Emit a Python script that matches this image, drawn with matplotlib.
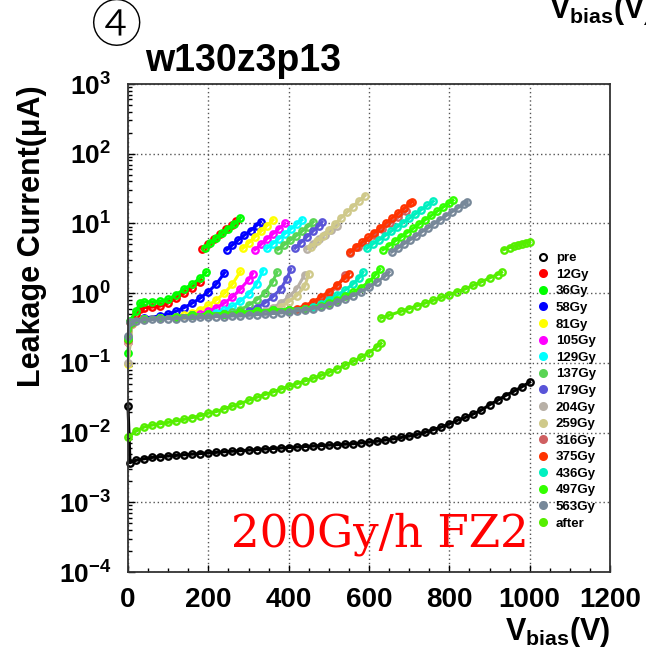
import numpy as np
import matplotlib
matplotlib.use("Agg")
import matplotlib.pyplot as plt
from matplotlib.lines import Line2D

nan = np.nan

# leakage current (uA) vs bias voltage (V)
pre_v = [0, 5, 20, 40, 60, 80, 100, 120, 140, 160, 180, 200, 220, 240, 260, 280, 300, 320, 340, 360,
         380, 400, 420, 440, 460, 480, 500, 520, 540, 560, 580, 600, 620, 640, 660, 680, 700, 720, 740,
         760, 780, 800, 820, 840, 860, 880, 900, 920, 940, 960, 980, 1000]
pre_i = [0.024, 0.0037, 0.0040, 0.0042, 0.0044, 0.0045, 0.0046, 0.0047, 0.0048, 0.0049, 0.0050, 0.0051,
         0.0052, 0.0053, 0.0054, 0.0055, 0.0056, 0.0057, 0.0058, 0.0059, 0.0060, 0.0061, 0.0062, 0.0063,
         0.0064, 0.0065, 0.0066, 0.0067, 0.0068, 0.0069, 0.0071, 0.0073, 0.0075, 0.0078, 0.0081, 0.0085,
         0.0089, 0.0094, 0.0101, 0.0110, 0.0120, 0.0133, 0.0150, 0.0165, 0.0185, 0.021, 0.025, 0.029,
         0.034, 0.039, 0.045, 0.053]

gy12_v = [0, 5, 20, 30, 40, 60, 80, 100, 120, 140, 160, 180, nan, 185, 200, 215, 230, 245, 260, 270]
gy12_i = [0.20, 0.38, 0.50, 0.60, 0.62, 0.63, 0.65, 0.72, 0.85, 1.00, 1.20, 1.45, nan,
          4.3, 5.0, 5.9, 7.0, 8.2, 9.6, 10.8]

gy36_v = [0, 5, 20, 30, 40, 60, 80, 100, 120, 140, 160, 180, 195, nan, 192, 205, 220, 235, 250, 265, 280]
gy36_i = [0.14, 0.40, 0.55, 0.72, 0.75, 0.75, 0.76, 0.82, 0.95, 1.15, 1.35, 1.65, 2.0, nan,
          4.5, 5.2, 6.1, 7.2, 8.4, 9.8, 12.0]

gy58_v = [0, 10, 40, 80, 100, 120, 140, 160, 180, 200, 220, 240, nan, 246, 260, 275, 290, 305, 320, 330]
gy58_i = [0.22, 0.38, 0.44, 0.47, 0.50, 0.55, 0.62, 0.72, 0.85, 1.05, 1.35, 1.95, nan,
          4.2, 4.9, 5.8, 6.8, 7.9, 9.3, 10.5]

gy81_v = [0, 10, 40, 80, 120, 140, 160, 180, 200, 220, 240, 260, 280, nan, 286, 301, 316, 331, 346, 361]
gy81_i = [0.095, 0.36, 0.42, 0.44, 0.46, 0.48, 0.52, 0.58, 0.67, 0.80, 1.00, 1.35, 2.05, nan,
          4.4, 5.3, 6.4, 7.7, 9.3, 11.2]

gy105_v = [0, 10, 40, 80, 120, 160, 180, 200, 220, 240, 260, 280, 300, 310, nan,
           316, 331, 346, 361, 376, 391]
gy105_i = [0.20, 0.37, 0.42, 0.44, 0.46, 0.48, 0.50, 0.55, 0.62, 0.72, 0.88, 1.15, 1.55, 1.9, nan,
           4.2, 5.0, 6.0, 7.1, 8.4, 10.0]

gy129_v = [0, 10, 40, 80, 120, 160, 200, 220, 240, 260, 280, 300, 320, 336, nan,
           346, 360, 375, 390, 405, 420, 433]
gy129_i = [0.21, 0.37, 0.42, 0.44, 0.46, 0.48, 0.50, 0.52, 0.57, 0.65, 0.77, 0.97, 1.35, 2.1, nan,
           4.4, 5.1, 6.0, 7.1, 8.3, 9.7, 11.2]

gy137_v = [0, 10, 40, 80, 120, 160, 200, 240, 260, 280, 300, 320, 340, 360, 371, nan,
           373, 388, 403, 418, 433, 448, 461]
gy137_i = [0.23, 0.38, 0.42, 0.44, 0.46, 0.48, 0.50, 0.51, 0.53, 0.58, 0.67, 0.80, 1.00, 1.45, 2.0, nan,
           4.2, 4.9, 5.7, 6.6, 7.7, 9.0, 10.5]

gy179_v = [0, 10, 40, 80, 120, 160, 200, 240, 280, 300, 320, 340, 360, 380, 395, 405, nan,
           416, 430, 445, 460, 475, 483]
gy179_i = [0.22, 0.37, 0.42, 0.44, 0.46, 0.48, 0.50, 0.51, 0.53, 0.55, 0.62, 0.72, 0.88, 1.15, 1.60, 2.2, nan,
           4.4, 5.3, 6.4, 7.7, 9.3, 10.5]

gy204_v = [0, 10, 40, 80, 120, 160, 200, 240, 280, 320, 340, 360, 380, 400, 420, 440, nan,
           445, 460, 475, 490, 505, 520]
gy204_i = [0.10, 0.36, 0.42, 0.44, 0.46, 0.48, 0.50, 0.51, 0.53, 0.55, 0.56, 0.62, 0.72, 0.88, 1.15, 1.85, nan,
           4.3, 5.0, 5.9, 6.9, 8.0, 9.3]

gy259_v = [0, 10, 40, 80, 120, 160, 200, 240, 280, 320, 360, 380, 400, 420, 440, 450, nan,
           455, 470, 485, 500, 515, 530, 545, 560, 575, 590]
gy259_i = [0.20, 0.37, 0.42, 0.44, 0.46, 0.48, 0.50, 0.51, 0.53, 0.55, 0.57, 0.64, 0.75, 0.92, 1.25, 1.9, nan,
           4.6, 5.6, 6.7, 8.1, 9.8, 11.9, 14.4, 17.4, 21.0, 25.0]

gy316_v = [0, 10, 40, 80, 120, 160, 200, 240, 280, 320, 360, 400, 440, 470, 500, 520, 540, nan,
           553, 573, 593, 613, 633, 653, 673, 693]
gy316_i = [0.21, 0.37, 0.42, 0.44, 0.46, 0.48, 0.50, 0.51, 0.53, 0.55, 0.57, 0.58, 0.62, 0.72, 0.95, 1.25, 1.8, nan,
           3.8, 4.6, 5.6, 6.8, 8.3, 10.1, 12.3, 15.0]

gy375_v = [0, 10, 40, 80, 120, 160, 200, 240, 280, 320, 360, 400, 420, 440, 460, 480, 500, 520, 540, 550, nan,
           553, 568, 583, 598, 613, 628, 643, 658, 673, 688, 703, 707]
gy375_i = [0.22, 0.38, 0.42, 0.44, 0.46, 0.48, 0.50, 0.51, 0.53, 0.55, 0.57, 0.58, 0.60, 0.66, 0.75, 0.88,
           1.05, 1.30, 1.65, 1.9, nan,
           3.9, 4.6, 5.4, 6.3, 7.4, 8.7, 10.2, 12.0, 14.1, 16.6, 19.5, 20.5]

gy436_v = [0, 10, 40, 80, 120, 160, 200, 240, 280, 320, 360, 400, 440, 460, 480, 500, 520, 540, 560, 575, 585, nan,
           595, 610, 625, 640, 655, 670, 685, 700, 715, 730, 745, 760]
gy436_i = [0.23, 0.38, 0.42, 0.44, 0.46, 0.48, 0.50, 0.51, 0.53, 0.55, 0.57, 0.58, 0.60, 0.63, 0.70, 0.80,
           0.93, 1.10, 1.35, 1.65, 2.0, nan,
           4.4, 5.1, 5.8, 6.7, 7.7, 8.9, 10.3, 11.8, 13.6, 15.7, 18.1, 20.8]

gy497_v = [0, 10, 40, 80, 120, 160, 200, 240, 280, 320, 360, 400, 440, 480, 500, 520, 540, 560, 580, 600, 615, 627,
           nan, 635, 650, 665, 680, 695, 710, 725, 740, 755, 770, 785, 800, 809]
gy497_i = [0.22, 0.38, 0.42, 0.44, 0.46, 0.48, 0.50, 0.51, 0.53, 0.55, 0.57, 0.58, 0.60, 0.66, 0.72, 0.80,
           0.90, 1.03, 1.20, 1.45, 1.80, 2.2, nan,
           4.2, 4.8, 5.6, 6.4, 7.4, 8.5, 9.8, 11.3, 13.0, 15.0, 17.2, 19.8, 21.5]

gy563_v = [0, 5, 20, 40, 60, 80, 100, 120, 140, 160, 180, 200, 220, 240, 260, 280, 300, 320, 340, 360, 380,
           400, 420, 440, 460, 480, 500, 520, 540, 560, 580, 600, 620, 640, 650, nan,
           657, 672, 687, 702, 717, 732, 747, 762, 777, 792, 807, 822, 837, 844]
gy563_i = [0.24, 0.38, 0.40, 0.41, 0.42, 0.42, 0.43, 0.43, 0.44, 0.44, 0.45, 0.45, 0.46, 0.46, 0.47, 0.47,
           0.48, 0.49, 0.50, 0.51, 0.52, 0.53, 0.55, 0.57, 0.60, 0.64, 0.68, 0.74, 0.82, 0.92, 1.05, 1.22,
           1.45, 1.75, 2.0, nan,
           3.9, 4.45, 5.1, 5.8, 6.6, 7.6, 8.6, 9.9, 11.3, 12.9, 14.7, 16.8, 19.2, 20.5]

after_v = [0, 20, 40, 60, 80, 100, 120, 140, 160, 180, 200, 220, 240, 260, 280, 300, 320, 340, 360, 380,
           400, 420, 440, 460, 480, 500, 520, 540, 560, 580, 600, 620, 630, nan,
           630, 650, 680, 700, 720, 740, 760, 780, 800, 820, 840, 860, 880, 900, 920, 930, nan,
           935, 950, 960, 970, 980, 990, 1000]
after_i = [0.0085, 0.0105, 0.0120, 0.0128, 0.0134, 0.0140, 0.0147, 0.0155, 0.0164, 0.0174, 0.019, 0.020,
           0.022, 0.024, 0.026, 0.029, 0.032, 0.035, 0.038, 0.042, 0.046, 0.050, 0.055, 0.060, 0.066,
           0.073, 0.082, 0.092, 0.105, 0.12, 0.14, 0.17, 0.19, nan,
           0.44, 0.48, 0.55, 0.60, 0.66, 0.72, 0.79, 0.87, 0.95, 1.05, 1.15, 1.30, 1.45, 1.65, 1.85, 2.0, nan,
           4.2, 4.5, 4.7, 4.9, 5.1, 5.3, 5.5]

labels = ["pre", "12Gy", "36Gy", "58Gy", "81Gy", "105Gy", "129Gy", "137Gy", "179Gy", "204Gy",
          "259Gy", "316Gy", "375Gy", "436Gy", "497Gy", "563Gy", "after"]
colors = ["#000000", "#ff0000", "#00ff00", "#0000ff", "#ffff00", "#ff00ff", "#00ffff", "#59d454",
          "#5954d8", "#b8b0a6", "#cfc98a", "#cf5f61", "#ff3300", "#00f0c0", "#33ff00", "#778899", "#55ee00"]
volts = [pre_v, gy12_v, gy36_v, gy58_v, gy81_v, gy105_v, gy129_v, gy137_v, gy179_v, gy204_v,
         gy259_v, gy316_v, gy375_v, gy436_v, gy497_v, gy563_v, after_v]
currents = [pre_i, gy12_i, gy36_i, gy58_i, gy81_i, gy105_i, gy129_i, gy137_i, gy179_i, gy204_i,
            gy259_i, gy316_i, gy375_i, gy436_i, gy497_i, gy563_i, after_i]

plt.rcParams["font.family"] = ["Liberation Sans", "DejaVu Sans"]
plt.rcParams["font.weight"] = "bold"
plt.rcParams["mathtext.fontset"] = "custom"
plt.rcParams["mathtext.bf"] = "Liberation Sans:bold"
plt.rcParams["mathtext.rm"] = "Liberation Sans:bold"

W, H = 646, 652
fig = plt.figure(figsize=(W / 100, H / 100), dpi=100)
ax = fig.add_axes([128 / W, 80 / H, 482 / W, 488 / H])

for v, i, c in zip(volts, currents, colors):
    ax.plot(v, i, color=c, lw=2.2, marker="o", mfc="none", ms=4.6, mew=1.7, clip_on=False)

ax.set_yscale("log")
ax.set_xlim(0, 1200)
ax.set_ylim(1e-4, 1e3)
ax.set_xticks(range(0, 1201, 200))
ax.set_xticks(range(0, 1201, 50), minor=True)
ax.set_yticks([10.0 ** k for k in range(-4, 4)])
ax.set_yticklabels([r"$\mathbf{10^{%d}}$" % k for k in range(-4, 4)])
ax.tick_params(axis="x", which="major", labelsize=20, pad=11)
ax.tick_params(axis="y", which="major", labelsize=19, pad=12)
ax.tick_params(which="both", direction="in", top=False, right=False, width=1)
ax.tick_params(which="major", length=5)
ax.tick_params(which="minor", length=3)
ax.grid(True, which="major", linestyle=(0, (1, 2)), color="#555555", lw=1)
for s in ax.spines.values():
    s.set_linewidth(1.3)
    s.set_color("#333333")

# legend, no frame, sitting on the right edge of the frame
handles = [Line2D([], [], ls="none", marker="o", ms=5, color=c,
                  mfc=("white" if n == "pre" else c), mew=1.5) for n, c in zip(labels, colors)]
fig.legend(handles, labels, loc="upper left", bbox_to_anchor=(536 / W, 1 - 252 / H),
           frameon=False, prop={"weight": "bold", "size": 9.5}, handlelength=1.0,
           handletextpad=0.5, labelspacing=0.33, borderpad=0, borderaxespad=0)

fig.text(32 / W, 1 - 85 / H, "Leakage Current(μA)", rotation=90, ha="center", va="top",
         fontsize=22, fontweight="bold")
fig.text(610 / W, 1 - 640 / H, r"$\mathbf{V_{bias}(V)}$", ha="right", va="baseline", fontsize=22)
fig.text(549 / W, 1 - 18 / H, r"$\mathbf{V_{bias}(V)}$", ha="left", va="baseline", fontsize=22)
fig.text(145 / W, 1 - 71 / H, "w130z3p13", ha="left", va="baseline", fontsize=27, fontweight="bold")
fig.text(116 / W, 1 - 28 / H, "④", ha="center", va="center", fontsize=37,
         family=["Noto Sans CJK JP", "DejaVu Sans"], fontweight="light")
fig.text(231 / W, 1 - 547 / H, "200Gy/h FZ2", ha="left", va="baseline", fontsize=32.5,
         color="red", family="DejaVu Serif", fontweight="normal")

fig.savefig("out.png", dpi=100)
